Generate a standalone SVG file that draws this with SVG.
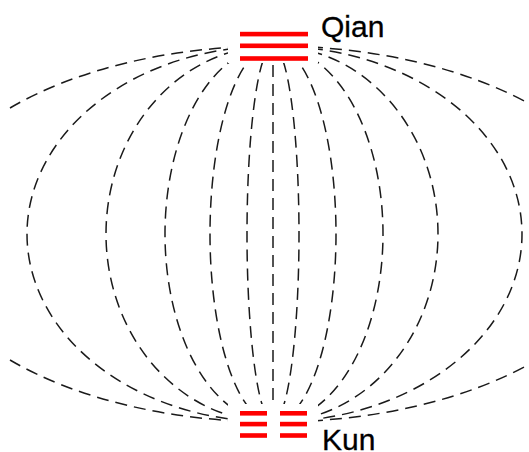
<svg xmlns="http://www.w3.org/2000/svg" width="529" height="452" viewBox="0 0 529 452">
<style>
.c{fill:none;stroke:#1a1a1a;stroke-width:1.5;stroke-dasharray:12 7}
.bar{fill:#ff0000}
.mask{fill:#ffffff}
.lbl{font-family:"Liberation Sans",Arial,sans-serif;font-size:30px;fill:#000;stroke:#000;stroke-width:0.3}
</style>
<rect width="529" height="452" fill="#ffffff"/>
<g id="connectors">
<path class="c" d="M273,46 L273,422"/>
<path class="c" d="M273,46 A26 188 0 0 0 273,422"/>
<path class="c" d="M273,46 A26 188 0 0 1 273,422"/>
<path class="c" d="M273,46 A63 188 0 0 0 273,422"/>
<path class="c" d="M273,46 A63 188 0 0 1 273,422"/>
<path class="c" d="M273,46 A108 188 0 0 0 273,422"/>
<path class="c" d="M273,46 A110 188 0 0 1 273,422"/>
<path class="c" d="M273,46 A167 188 0 0 0 273,422"/>
<path class="c" d="M273,46 A165 188 0 0 1 273,422"/>
<path class="c" d="M273,46 A246 188 0 0 0 273,422"/>
<path class="c" d="M273,46 A249 188 0 0 1 273,422"/>
<path class="c" d="M10,108 A355 188 0 0 1 273,46"/>
<path class="c" d="M10,360 A355 188 0 0 0 273,422"/>
<path class="c" d="M273,46 A355 188 0 0 1 535,107"/>
<path class="c" d="M273,422 A355 188 0 0 0 535,361"/>
</g>
<g id="qian">
<rect class="mask" x="228" y="0" width="90" height="63"/>
<rect class="bar" x="240" y="31.8" width="68" height="4.6"/>
<rect class="bar" x="240" y="43.5" width="68" height="4.6"/>
<rect class="bar" x="240" y="56.2" width="68" height="4.6"/>
<text class="lbl" x="321" y="37">Qian</text>
</g>
<g id="kun">
<rect class="mask" x="228" y="404" width="90" height="48"/>
<rect class="bar" x="240" y="411" width="27" height="4.6"/>
<rect class="bar" x="280" y="411" width="27" height="4.6"/>
<rect class="bar" x="240" y="421.8" width="27" height="4.6"/>
<rect class="bar" x="280" y="421.8" width="27" height="4.6"/>
<rect class="bar" x="240" y="433.2" width="27" height="4.6"/>
<rect class="bar" x="280" y="433.2" width="27" height="4.6"/>
<text class="lbl" x="322" y="449.5">Kun</text>
</g>
</svg>
